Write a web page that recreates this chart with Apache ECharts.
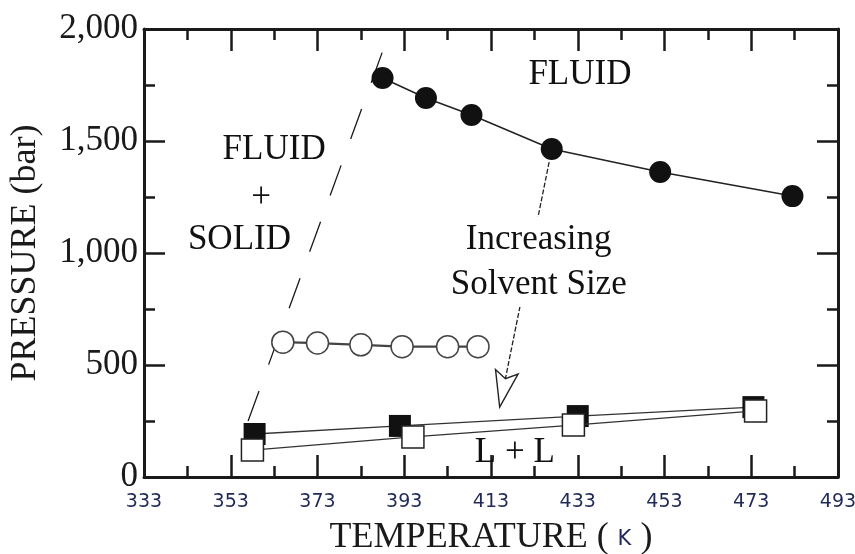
<!DOCTYPE html>
<html lang="en">
<head>
<meta charset="UTF-8">
<title>Pressure vs Temperature</title>
<script src="https://cdn.jsdelivr.net/npm/echarts@6/dist/echarts.min.js"></script>
<style>
  html, body { margin: 0; padding: 0; background: #fff; }
  #cc { width: 855px; height: 554px; }
</style>
</head>
<body>
<div id="cc"></div>
<script>
// phase boundary (dashed), FLUID + SOLID
var boundaryT = [357, 388];
var boundaryP = [250, 1900];

// filled circles
var filledCircleT = [388, 398, 408.5, 427, 452, 482.5];
var filledCircleP = [1781, 1692, 1616, 1464, 1362, 1254];

// open circles
var openCircleT = [365, 373, 383, 392.5, 403, 410];
var openCircleP = [602, 598, 590, 582, 582, 582];

// filled squares
var filledSquareT = [358.5, 392, 433, 473.5];
var filledSquareP = [192, 228, 272, 312];

// open squares
var openSquareT = [358, 395, 432, 474];
var openSquareP = [120, 179, 232, 295];

// arrow "increasing solvent size"
var arrowFrom = [426.4, 1406];
var arrowTo = [415, 312];

// region labels
var labelTexts = ['FLUID', 'FLUID', '+', 'SOLID', 'Increasing\nSolvent Size', 'L + L'];
var labelT = [433.5, 363, 360, 355, 424, 418.5];
var labelP = [1795, 1460, 1245, 1058, 960, 107];

function zip(a, b) {
    return a.map(function (v, i) { return [v, b[i]]; });
}

var chart = echarts.init(document.getElementById('cc'));

var serif = 'Liberation Serif';
var ink = '#1a1a1a';

function xAxisCfg(pos, showLabel) {
    return {
        type: 'value',
        position: pos,
        min: 333, max: 493, interval: 20,
        axisLine: { show: true, onZero: false, lineStyle: { color: ink, width: 3 } },
        axisTick: { show: true, inside: true, length: 22, lineStyle: { color: ink, width: 2.5 } },
        minorTick: { show: true, splitNumber: 2, length: 11, lineStyle: { color: ink, width: 2.5 } },
        splitLine: { show: false },
        axisLabel: {
            show: showLabel, margin: 16,
            fontFamily: 'DejaVu Sans', fontSize: 19, color: '#1f2a58'
        }
    };
}

function yAxisCfg(pos, showLabel) {
    return {
        type: 'value',
        position: pos,
        min: 0, max: 2000, interval: 500,
        axisLine: { show: true, onZero: false, lineStyle: { color: ink, width: 3 } },
        axisTick: { show: true, inside: true, length: 21, lineStyle: { color: ink, width: 2.5 } },
        minorTick: { show: true, splitNumber: 2, length: 11, lineStyle: { color: ink, width: 2.5 } },
        splitLine: { show: false },
        axisLabel: {
            show: showLabel, margin: 6,
            fontFamily: serif, fontSize: 35, color: '#1a1a1a',
            formatter: function (v) { return v.toLocaleString('en-US'); }
        }
    };
}

var xBottom = xAxisCfg('bottom', true);
xBottom.name = '{a|TEMPERATURE ( }{k|K}{a| )}';
xBottom.nameLocation = 'middle';
xBottom.nameGap = 43;
xBottom.nameTextStyle = {
    rich: {
        a: { fontFamily: serif, fontSize: 36, color: '#1a1a1a' },
        k: { fontFamily: 'DejaVu Sans', fontSize: 21, color: '#1f2a58', padding: [4, 0, 0, 0] }
    }
};

var yLeft = yAxisCfg('left', true);
yLeft.name = 'PRESSURE (bar)';
yLeft.nameLocation = 'middle';
yLeft.nameGap = 100;
yLeft.nameTextStyle = { fontFamily: serif, fontSize: 36, color: '#1a1a1a' };

chart.setOption({
    animation: false,
    backgroundColor: '#fff',
    grid: { left: 144, right: 17, top: 29, bottom: 77, outerBoundsMode: 'none' },
    xAxis: [xBottom, xAxisCfg('top', false)],
    yAxis: [yLeft, yAxisCfg('right', false)],
    series: [{
        type: 'line',
        data: zip(boundaryT, boundaryP),
        symbol: 'none',
        lineStyle: { color: ink, width: 1.3, type: [32, 28] },
        z: 2
    }, {
        type: 'line',
        data: zip(filledCircleT, filledCircleP),
        symbol: 'circle', symbolSize: 22,
        itemStyle: { color: '#111' },
        lineStyle: { color: '#222', width: 1.5 },
        z: 3
    }, {
        type: 'line',
        data: zip(openCircleT, openCircleP),
        symbol: 'circle', symbolSize: 22,
        itemStyle: { color: '#fff', borderColor: '#444', borderWidth: 1.5 },
        lineStyle: { color: '#444', width: 2.2 },
        z: 3
    }, {
        type: 'line',
        data: zip(filledSquareT, filledSquareP),
        symbol: 'rect', symbolSize: 22,
        itemStyle: { color: '#111' },
        lineStyle: { color: '#333', width: 1.3 },
        z: 3
    }, {
        type: 'line',
        data: zip(openSquareT, openSquareP),
        symbol: 'rect', symbolSize: 22,
        itemStyle: { color: '#fff', borderColor: '#222', borderWidth: 1.5 },
        lineStyle: { color: '#333', width: 1.3 },
        z: 4
    }, {
        type: 'custom',
        data: [[arrowFrom[0], arrowFrom[1], arrowTo[0], arrowTo[1]]],
        encode: { x: [0, 2], y: [1, 3] },
        z: 2,
        renderItem: function (params, api) {
            var a = api.coord([api.value(0), api.value(1)]);
            var b = api.coord([api.value(2), api.value(3)]);
            var dx = a[0] - b[0], dy = a[1] - b[1];
            var len = Math.sqrt(dx * dx + dy * dy);
            var ux = dx / len, uy = dy / len;
            var nx = -uy, ny = ux;
            var L = 36, W = 11.5, N = 29;
            var left = [b[0] + ux * L + nx * W, b[1] + uy * L + ny * W];
            var right = [b[0] + ux * L - nx * W, b[1] + uy * L - ny * W];
            var notch = [b[0] + ux * N, b[1] + uy * N];
            return {
                type: 'group',
                children: [{
                    type: 'line',
                    shape: { x1: a[0], y1: a[1], x2: notch[0], y2: notch[1] },
                    style: { stroke: '#222', lineWidth: 1.3, lineDash: [5, 2] }
                }, {
                    type: 'polygon',
                    shape: { points: [b, left, notch, right] },
                    style: { fill: '#fff', stroke: '#222', lineWidth: 1.4 }
                }]
            };
        }
    }, {
        type: 'scatter',
        data: zip(labelT, labelP).map(function (p, i) {
            var item = { value: p, name: labelTexts[i] };
            // the arrow runs behind this block of text
            if (labelTexts[i].indexOf('Increasing') === 0) {
                item.label = { backgroundColor: '#fff', padding: [0, 2] };
            }
            return item;
        }),
        symbolSize: 1,
        itemStyle: { color: 'rgba(0,0,0,0)' },
        z: 6,
        label: {
            show: true,
            position: 'inside',
            formatter: '{b}',
            fontFamily: serif,
            fontSize: 35,
            lineHeight: 45,
            color: '#111',
            opacity: 1,
            textBorderWidth: 0
        }
    }]
});
</script>
</body>
</html>
